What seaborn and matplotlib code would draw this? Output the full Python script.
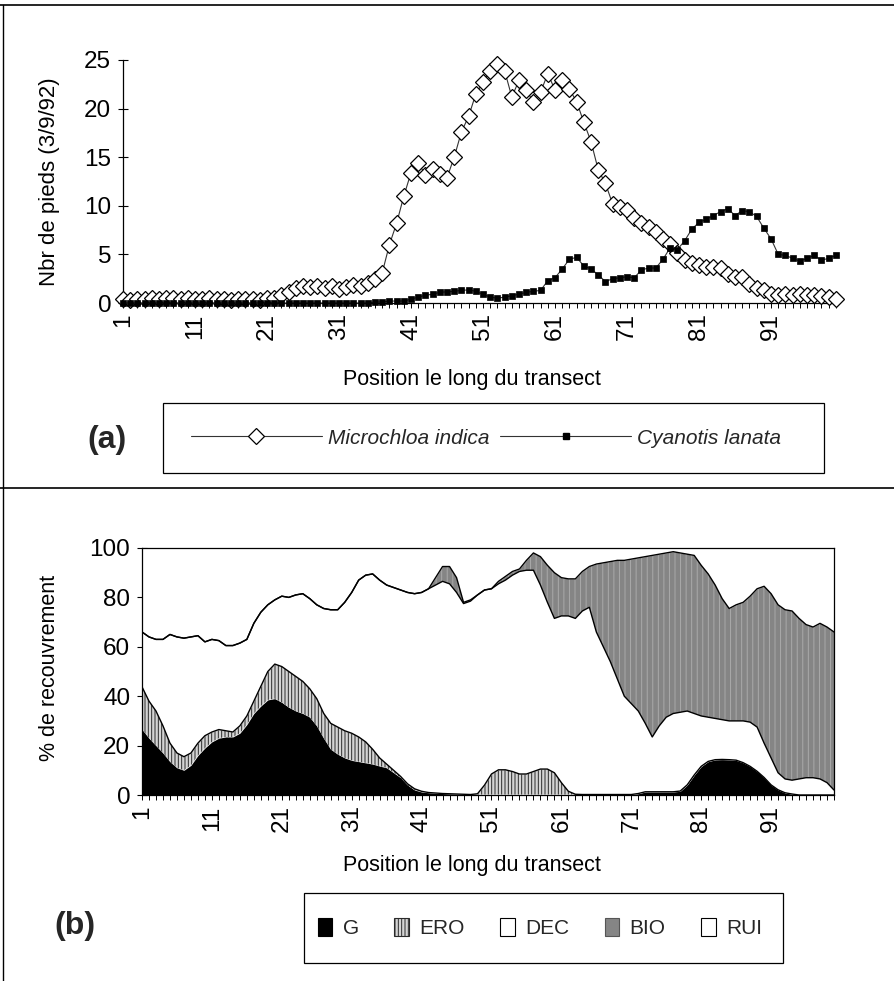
import numpy as np
import pandas as pd
import matplotlib
matplotlib.use("Agg")
import matplotlib.pyplot as plt
from matplotlib.lines import Line2D
from matplotlib.patches import Patch, Rectangle
import seaborn as sns

# ---------------- data ----------------
position = list(range(1, 101))

microchloa_indica = [
    0.4, 0.3, 0.4, 0.4, 0.5, 0.4, 0.5, 0.5, 0.4, 0.5, 0.4, 0.4, 0.5, 0.4, 0.4, 0.3, 0.4, 0.4, 0.4, 0.3,
    0.5, 0.5, 0.8, 1.1, 1.5, 1.8, 1.6, 1.8, 1.5, 1.7, 1.4, 1.6, 1.9, 1.7, 2.1, 2.5, 3.1, 6.0, 8.2, 11.0,
    13.4, 14.4, 13.2, 13.8, 13.3, 12.9, 15.0, 17.6, 19.2, 21.5, 22.7, 23.9, 24.6, 23.9, 21.2, 22.9, 21.9, 20.7, 21.7, 23.6,
    21.9, 22.9, 22.0, 20.7, 18.6, 16.6, 13.7, 12.3, 10.2, 9.9, 9.6, 8.7, 8.2, 7.8, 7.3, 6.6, 6.1, 5.1, 4.4, 4.1,
    3.9, 3.7, 3.7, 3.6, 3.0, 2.7, 2.7, 2.0, 1.5, 1.3, 0.9, 0.8, 0.9, 0.8, 0.9, 0.8, 0.8, 0.7, 0.6, 0.4,
]

cyanotis_lanata = [0.0] * 35 + [
    0.1, 0.1, 0.2, 0.2, 0.2,
    0.4, 0.6, 0.8, 0.9, 1.1, 1.15, 1.2, 1.3, 1.35, 1.2, 0.9, 0.6, 0.5, 0.6, 0.75, 0.9, 1.1, 1.2, 1.3, 2.3,
    2.6, 3.5, 4.5, 4.7, 3.8, 3.5, 2.9, 2.2, 2.5, 2.6, 2.7, 2.6, 3.4, 3.6, 3.6, 4.5, 5.7, 5.5, 6.4, 7.6,
    8.3, 8.6, 9.0, 9.4, 9.7, 9.0, 9.5, 9.4, 8.9, 7.7, 6.6, 5.0, 4.9, 4.6, 4.3, 4.6, 4.9, 4.4, 4.6, 4.9,
]

G = [
    26.6, 23, 20, 17, 13.5, 11, 10, 12, 16, 19,
    21.5, 23, 23.5, 23.5, 25, 28.5, 33, 36, 38.5, 39,
    37.5, 35.5, 34, 33, 31.5, 28, 23, 18.5, 16.5, 15,
    14, 13.5, 13, 12.5, 11.7, 11, 9, 7, 4, 2,
    1.2, 0.9, 0.8, 0.6, 0.5, 0.4, 0.3, 0.2, 0.2, 0.2,
    0.2, 0.2, 0.2, 0.2, 0.2, 0.2, 0.2, 0.2, 0.2, 0.2,
    0.2, 0.2, 0.2, 0.1, 0.1, 0.1, 0.1, 0.1, 0.1, 0.1,
    0.1, 0.5, 1.2, 1.2, 1.2, 1.2, 1.2, 1.5, 4, 8,
    11.5, 13.5, 14.2, 14.3, 14.2, 14, 13, 11.5, 9.5, 7,
    4, 2, 0.8, 0.3, 0, 0, 0, 0, 0, 0,
]
ERO = [
    17.2, 15, 14, 11, 7.5, 6, 5.5, 5, 5, 5,
    4, 3.5, 2.5, 2, 3, 3.5, 5, 8, 11.5, 14,
    14.5, 14.5, 14, 13, 11.5, 11, 10, 10.5, 11, 11,
    11, 10, 8.5, 6, 3.3, 1.5, 1, 0.5, 0.5, 0.5,
    0.3, 0.1, 0, 0, 0, 0, 0, 0, 0.3, 3.8,
    8.3, 10, 10, 9.3, 8.3, 8.3, 9.3, 10.3, 10.3, 8.8,
    4.8, 1.3, 0.1, 0.1, 0.1, 0.1, 0.1, 0.1, 0.1, 0.1,
    0.1, 0.1, 0.1, 0.1, 0.1, 0.1, 0.1, 0.1, 0.1, 0.1,
    0.1, 0.1, 0.1, 0.1, 0.1, 0.1, 0.1, 0.1, 0.1, 0.1,
    0.1, 0.1, 0.1, 0.1, 0, 0, 0, 0, 0, 0,
]
DEC = [
    22.2, 26, 29, 35, 44, 47, 48, 47, 43.5, 38,
    37.5, 36, 34.5, 35, 33.5, 31, 31.5, 30, 27, 26,
    28.5, 30, 33, 35.5, 36.5, 38, 42.5, 46, 47.5, 52,
    57, 63.5, 67.5, 71, 72, 72.5, 74, 75.5, 77.5, 79,
    80.5, 82.5, 84.2, 85.9, 85, 81.6, 77.2, 78.3, 80.5, 79,
    75, 75.3, 76.8, 79.5, 82, 82.5, 81.5, 74.5, 67.5, 62.5,
    67.5, 71, 71.2, 74.3, 75.8, 65.8, 59.8, 53.8, 46.8, 39.8,
    36.8, 33.4, 27.7, 22.2, 26.7, 30.2, 31.7, 31.9, 29.9, 24.9,
    20.4, 17.9, 16.7, 16.1, 15.7, 15.9, 16.9, 17.9, 17.9, 13.9,
    10.9, 6.9, 5.6, 5.6, 6.5, 7, 7, 6.5, 5, 2,
]
BIO = [0] * 42 + [
    3, 6, 7, 6, 0.5, 0.5, 0, 0,
    0, 1, 1.5, 1.5, 1, 4, 7, 11.5, 15, 18.5,
    15.5, 15, 16, 16, 16.5, 27.5, 34, 40.5, 48, 55,
    58.5, 62, 67.5, 73.5, 69.5, 66.5, 65.5, 64.5, 63.5, 64,
    61, 58, 54, 49, 45.5, 47, 48, 51, 56, 63.5,
    66.5, 68, 68.5, 68.5, 65, 62, 61, 63, 63, 64,
]
RUI = [
    34, 36, 37, 37, 35, 36, 36.5, 36, 35.5, 38,
    37, 37.5, 39.5, 39.5, 38.5, 37, 30.5, 26, 23, 21,
    19.5, 20, 19, 18.5, 20.5, 23, 24.5, 25, 25, 22,
    18, 13, 11, 10.5, 13, 15, 16, 17, 18, 18.5,
    18, 16.5, 12, 7.5, 7.5, 12, 22, 21, 19, 17,
    16.5, 13.5, 11.5, 9.5, 8.5, 5, 2, 3.5, 7, 10,
    12, 12.5, 12.5, 9.5, 7.5, 6.5, 6, 5.5, 5, 5,
    4.5, 4, 3.5, 3, 2.5, 2, 1.5, 2, 2.5, 3,
    7, 10.5, 15, 20.5, 24.5, 23, 22, 19.5, 16.5, 15.5,
    18.5, 23, 25, 25.5, 28.5, 31, 32, 30.5, 32, 34,
]

x_tick_labels = ["1", "11", "21", "31", "41", "51", "61", "71", "81", "91"]
top_yticks = [0, 5, 10, 15, 20, 25]
bottom_yticks = [0, 20, 40, 60, 80, 100]
series_names = ["Microchloa indica", "Cyanotis lanata"]
cover_names = ["G", "ERO", "DEC", "BIO", "RUI"]

# ---------------- style ----------------
sns.set_theme(style="white")
plt.rcParams["font.family"] = ["Liberation Sans", "DejaVu Sans"]
plt.rcParams["hatch.linewidth"] = 0.7
plt.rcParams["axes.edgecolor"] = "black"

W, H = 895, 981
fig = plt.figure(figsize=(W / 100, H / 100), dpi=100)
fig.patch.set_facecolor("white")


def fbox(x0, y0, x1, y1):
    return [x0 / W, 1 - y1 / H, (x1 - x0) / W, (y1 - y0) / H]


tick_lab = [str(p) if str(p) in x_tick_labels else "" for p in position]
TICK_FS = 17.5
DIAMOND_MS = 8.5
SQUARE_MS = 4.0

# ---------------- panel (a) ----------------
ax1 = fig.add_axes(fbox(123, 60, 838, 303))
df = pd.DataFrame({"Position": position,
                   series_names[0]: microchloa_indica,
                   series_names[1]: cyanotis_lanata})
sns.lineplot(data=df, x="Position", y=series_names[0], ax=ax1, color="#333333",
             linewidth=0.8, marker="D", markersize=DIAMOND_MS, markerfacecolor="white",
             markeredgecolor="black", markeredgewidth=0.9, clip_on=False, zorder=3)
sns.lineplot(data=df, x="Position", y=series_names[1], ax=ax1, color="#333333",
             linewidth=0.8, marker="s", markersize=SQUARE_MS, markerfacecolor="black",
             markeredgecolor="black", markeredgewidth=0.5, clip_on=False, zorder=4)
ax1.set_xlim(1, 100.3)
ax1.set_ylim(0, 25)
ax1.set_yticks(top_yticks)
ax1.set_xticks(position)
ax1.set_xticklabels(tick_lab, rotation=90)
for s in ("top", "right"):
    ax1.spines[s].set_visible(False)
for s in ("left", "bottom"):
    ax1.spines[s].set_linewidth(0.9)
    ax1.spines[s].set_color("black")
ax1.tick_params(axis="x", bottom=True, direction="out", length=3.5, width=0.7,
                labelsize=TICK_FS, pad=4, colors="black")
ax1.tick_params(axis="y", left=True, direction="inout", length=7, width=0.8,
                labelsize=TICK_FS, pad=5, colors="black")
ax1.set_xlabel("Position le long du transect", fontsize=15.5, color="black")
ax1.xaxis.label.set_va("center")
ax1.xaxis.set_label_coords((472 - 123) / 715, (303 - 380) / 243)
ax1.set_ylabel("Nbr de pieds (3/9/92)", fontsize=16, color="black")
ax1.yaxis.set_label_coords((60 - 123) / 715, 0.5)

leg_a_handles = [
    Line2D([], [], color="#333333", lw=0.8, marker="D", markersize=DIAMOND_MS,
           markerfacecolor="white", markeredgecolor="black", markeredgewidth=0.9),
    Line2D([], [], color="#333333", lw=0.8, marker="s", markersize=SQUARE_MS,
           markerfacecolor="black", markeredgecolor="black"),
]
fig.legend(leg_a_handles, series_names, loc="center",
           bbox_to_anchor=(486 / W, 1 - 438 / H), ncol=2, frameon=False,
           prop={"size": 15, "style": "italic"}, handlelength=6.3,
           handletextpad=0.3, columnspacing=0.5, numpoints=1)
fig.add_artist(Rectangle((163 / W, 1 - 473 / H), (824 - 163) / W, 70 / H,
                         transform=fig.transFigure, fill=False, ec="black", lw=0.9))
fig.text(107 / W, 1 - 440 / H, "(a)", fontsize=23, fontweight="bold",
         ha="center", va="center")

# ---------------- panel (b) ----------------
ax2 = fig.add_axes(fbox(142, 548, 834, 795))
ERO_FACE, ERO_HATCH = "#d4d4d4", "#2a2a2a"
BIO_FACE, BIO_HATCH = "#858585", "#aaaaaa"
fills = ["black", ERO_FACE, "white", BIO_FACE, "white"]
polys = ax2.stackplot(position, G, ERO, DEC, BIO, RUI, colors=fills,
                      linewidth=0, labels=cover_names)
polys[1].set_hatch("|||||")
polys[1].set_edgecolor(ERO_HATCH)
polys[1].set_linewidth(0)
polys[3].set_hatch("|||")
polys[3].set_edgecolor(BIO_HATCH)
polys[3].set_linewidth(0)
cum = np.cumsum(np.vstack([G, ERO, DEC, BIO]), axis=0)
for k in (1, 2, 3):
    ax2.plot(position, cum[k], color="black", lw=1.0, zorder=3)
ax2.set_xlim(1, 100)
ax2.set_ylim(0, 100)
ax2.set_yticks(bottom_yticks)
ax2.set_xticks(position)
ax2.set_xticklabels(tick_lab, rotation=90)
for s in ax2.spines.values():
    s.set_visible(True)
    s.set_linewidth(0.9)
    s.set_color("black")
ax2.tick_params(axis="x", bottom=True, direction="out", length=3.5, width=0.7,
                labelsize=TICK_FS, pad=4, colors="black")
ax2.tick_params(axis="y", left=True, direction="inout", length=7, width=0.8,
                labelsize=TICK_FS, pad=5, colors="black")
ax2.set_xlabel("Position le long du transect", fontsize=15.5, color="black")
ax2.xaxis.label.set_va("center")
ax2.xaxis.set_label_coords((472 - 142) / 692, (795 - 866) / 247)
ax2.set_ylabel("% de recouvrement", fontsize=15.5, color="black")
ax2.yaxis.set_label_coords((60 - 142) / 692, 0.514)

leg_b_handles = [
    Patch(facecolor="black", edgecolor="black", lw=0.8),
    Patch(facecolor=ERO_FACE, edgecolor=ERO_HATCH, hatch="|||||", lw=0.8),
    Patch(facecolor="white", edgecolor="black", lw=0.8),
    Patch(facecolor=BIO_FACE, edgecolor="#555555", lw=0.8),
    Patch(facecolor="white", edgecolor="black", lw=0.8),
]
fig.legend(leg_b_handles, cover_names, loc="center",
           bbox_to_anchor=(540 / W, 1 - 928 / H), ncol=5, frameon=False,
           prop={"size": 15}, handlelength=0.7, handleheight=1.0,
           handletextpad=0.5, columnspacing=1.7)
fig.add_artist(Rectangle((304 / W, 1 - 963 / H), (783 - 304) / W, 70 / H,
                         transform=fig.transFigure, fill=False, ec="black", lw=0.9))
fig.text(75 / W, 1 - 926 / H, "(b)", fontsize=23, fontweight="bold",
         ha="center", va="center")

# ---------------- panel frames ----------------
fig.add_artist(Line2D([0, 1], [1 - 5 / H] * 2, transform=fig.transFigure, color="black", lw=1.2))
fig.add_artist(Line2D([0, 1], [1 - 488 / H] * 2, transform=fig.transFigure, color="black", lw=1.2))
fig.add_artist(Line2D([3 / W] * 2, [0, 1 - 5 / H], transform=fig.transFigure, color="black", lw=1.0))

fig.savefig("out.png", dpi=100, facecolor="white")
